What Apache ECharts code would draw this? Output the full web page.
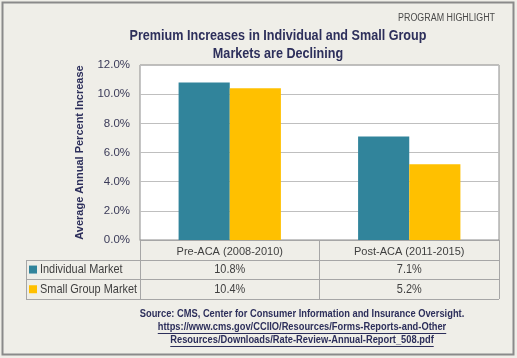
<!DOCTYPE html>
<html><head><meta charset="utf-8">
<script src="https://cdn.jsdelivr.net/npm/echarts@6/dist/echarts.min.js"></script>
<style>html,body{margin:0;padding:0;background:#efeee8;}#c{width:517px;height:358px;}</style>
</head><body><div id="c"></div>
<script>
const categories = ['Pre-ACA (2008-2010)', 'Post-ACA (2011-2015)'];
const seriesNames = ['Individual Market', 'Small Group Market'];
const individual = [10.8, 7.1];
const smallGroup = [10.4, 5.2];
const yTicks = [0, 2, 4, 6, 8, 10, 12];
const titleLines = ['Premium Increases in Individual and Small Group', 'Markets are Declining'];
const srcLines = [
  'Source: CMS, Center for Consumer Information and Insurance Oversight.',
  'https://www.cms.gov/CCIIO/Resources/Forms-Reports-and-Other',
  'Resources/Downloads/Rate-Review-Annual-Report_508.pdf'
];

const FONT = '"Liberation Sans", Arial, sans-serif';
const NAVY = '#2d2f5b';
const TEAL = '#31849b';
const GOLD = '#ffc000';
const TXT = '#3f3f3f';
const LINE = '#a6a6a6';

const chart = echarts.init(document.getElementById('c'));
const seriesData = [individual, smallGroup];
const colors = [TEAL, GOLD];

chart.setOption({
  animation: false,
  backgroundColor: '#efeee8',
  textStyle: { fontFamily: FONT },
  grid: { left: 140, right: 18, top: 65, bottom: 118, show: true, backgroundColor: '#ffffff', borderColor: '#8c8c8c', borderWidth: 1 },
  xAxis: {
    type: 'category', data: categories,
    axisLine: { lineStyle: { color: LINE } },
    axisTick: { show: true, length: 59, lineStyle: { color: LINE } },
    axisLabel: { fontFamily: FONT, fontSize: 11, color: TXT, margin: 6 }
  },
  yAxis: {
    type: 'value', min: yTicks[0], max: yTicks[yTicks.length - 1], interval: yTicks[1] - yTicks[0],
    name: 'Average Annual Percent Increase', nameLocation: 'middle', nameGap: 55,
    nameTextStyle: { fontFamily: FONT, fontSize: 11, fontWeight: 'bold', color: NAVY },
    axisLine: { show: false }, axisTick: { show: false },
    axisLabel: { fontFamily: FONT, fontSize: 11.5, color: '#3a3a58', margin: 10, formatter: v => v.toFixed(1) + '%' },
    splitLine: { lineStyle: { color: '#bfbfbf' } }
  },
  series: seriesData.map((d, i) => ({
    type: 'bar', name: seriesNames[i], data: d,
    barGap: '0%', barCategoryGap: '43%',
    itemStyle: { color: colors[i] }
  }))
});

const ctx = document.createElement('canvas').getContext('2d');
function measure(t, font) { ctx.font = font; return ctx.measureText(t).width; }

const g = [];
const rowTop = 240, rowH = 19.7;
const tLeft = 26, tRight = 499;
g.push({ type: 'rect', shape: { x: 2.5, y: 2.5, width: 511, height: 352 }, style: { fill: null, stroke: '#8a8a8a', lineWidth: 2 }, silent: true, z: 0 });
for (let r = 1; r <= 3; r++) {
  const y = Math.round(rowTop + r * rowH) + 0.5;
  g.push({ type: 'line', shape: { x1: tLeft, y1: y, x2: tRight, y2: y }, style: { stroke: LINE, lineWidth: 1 }, silent: true });
}
g.push({ type: 'line', shape: { x1: tLeft + 0.5, y1: Math.round(rowTop + rowH) + 0.5, x2: tLeft + 0.5, y2: Math.round(rowTop + 3 * rowH) + 0.5 }, style: { stroke: LINE, lineWidth: 1 }, silent: true });
seriesNames.forEach((name, i) => {
  const yc = rowTop + rowH * (i + 1.5);
  g.push({ type: 'rect', shape: { x: 29, y: yc - 4, width: 8, height: 8 }, style: { fill: colors[i] }, silent: true });
  g.push({ type: 'text', x: 40, y: yc, scaleX: 0.84, style: { text: name, fontFamily: FONT, fontSize: 13, fill: TXT, verticalAlign: 'middle', align: 'left' }, silent: true });
  seriesData[i].forEach((v, j) => {
    const px = chart.convertToPixel({ xAxisIndex: 0 }, j);
    g.push({ type: 'text', x: px, y: yc, scaleX: 0.84, style: { text: v.toFixed(1) + '%', fontFamily: FONT, fontSize: 13, fill: TXT, verticalAlign: 'middle', align: 'center' }, silent: true });
  });
});
// title
[36, 54].forEach((y, i) => {
  g.push({ type: 'text', x: 278, y: y, scaleX: 0.84, style: { text: titleLines[i], fontFamily: FONT, fontSize: 15, fontWeight: 'bold', fill: NAVY, align: 'center', verticalAlign: 'middle' }, silent: true });
});
// header note
g.push({ type: 'text', x: 495, y: 18, scaleX: 0.89, style: { text: 'PROGRAM HIGHLIGHT', fontFamily: FONT, fontSize: 10, fill: '#4a4a4a', align: 'right', verticalAlign: 'middle' }, silent: true });
// source
const srcY = [313.5, 327, 340];
const srcScale = 0.81, srcFontSize = 11.5;
srcLines.forEach((t, i) => {
  g.push({ type: 'text', x: 302, y: srcY[i], scaleX: srcScale, style: { text: t, fontFamily: FONT, fontSize: srcFontSize, fontWeight: 'bold', fill: NAVY, align: 'center', verticalAlign: 'middle' }, silent: true });
  if (i > 0) {
    const w = measure(t, 'bold ' + srcFontSize + 'px ' + FONT) * srcScale;
    const uy = Math.round(srcY[i] + 6) + 0.5;
    g.push({ type: 'line', shape: { x1: 302 - w / 2, y1: uy, x2: 302 + w / 2, y2: uy }, style: { stroke: NAVY, lineWidth: 1 }, silent: true });
  }
});

chart.setOption({ graphic: g });
</script>
</body></html>
